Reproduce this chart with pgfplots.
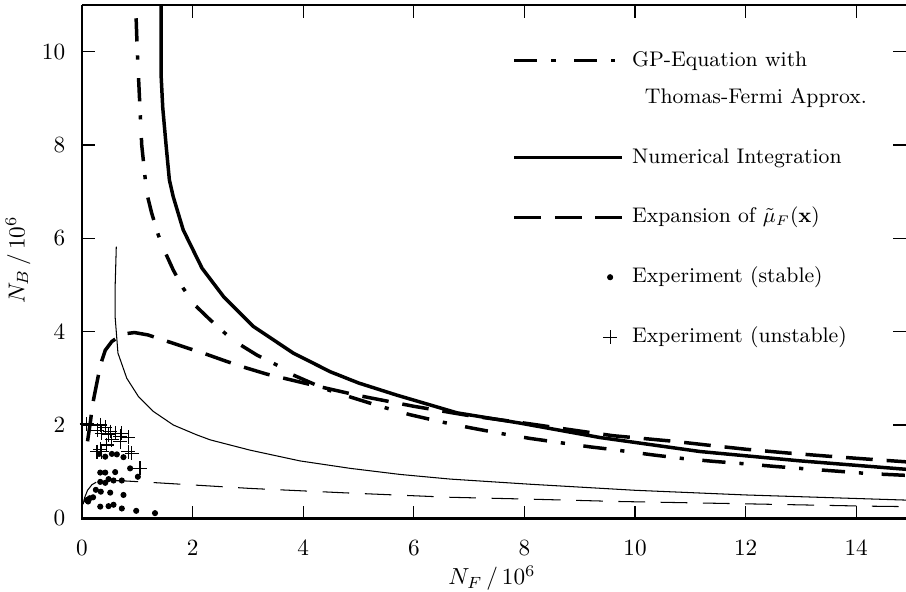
\documentclass[border=0pt]{standalone}
\usepackage{pgfplots}
\pgfplotsset{compat=1.18}
\pgfplotsset{
  markleg/.style={legend image code/.code={\path[draw=none,fill=none] (0pt,-5pt) rectangle (46.5pt,5pt);\draw[##1] plot coordinates {(41.3pt,0pt)};}},
  gpleg/.style={legend image code/.code={\path[draw=none,fill=none] (0pt,-5pt) rectangle (46.5pt,5pt);\draw[##1] (0pt,15.9pt) -- (46.5pt,15.9pt);}},
}
\newcommand{\leg}[1]{\raisebox{-3.2pt}[0pt][0pt]{#1}}
\begin{document}
\begin{tikzpicture}
\begin{axis}[
  name=ax,
  scale only axis,
  width=354.7pt, height=220.95pt,
  xmin=0, xmax=14.9, ymin=0, ymax=11,
  xtick={0,2,...,14}, ytick={0,2,...,10},
  tick align=inside,
  major tick length=5.4pt,
  every tick/.style={black, line width=0.5pt},
  axis line style={draw=none},
  xticklabel style={yshift=-6pt},
  yticklabel style={xshift=-3.7pt},
  xlabel={$N_F\,/\,10^6$},
  ylabel={$N_B\,/\,10^6$},
  xlabel style={at={(axis description cs:0.4976,-0.1168)}, anchor=center},
  ylabel style={at={(axis description cs:-0.0776,0.503)}, anchor=center},
  legend cell align=left,
  legend style={draw=none, fill=none, at={(0.5218,0.8962)}, anchor=north west,
    inner sep=0pt, row sep=15.8pt, column sep=3.5pt,
    nodes={inner sep=0pt, font=\fontsize{9.1}{11}\selectfont}},
  legend image code/.code={\path[draw=none,fill=none] (0pt,-5pt) rectangle (46.5pt,5pt);\draw[#1] (0pt,0pt) -- (46.5pt,0pt);},
]
% GP-Equation with Thomas-Fermi (thick dash-dot)
\addplot[black, line width=1.5pt, dash pattern=on 10pt off 6pt on 1.8pt off 8pt, gpleg] coordinates {
(0.96,12) (0.97,11) (1.0,10) (1.04,9) (1.08,8) (1.17,6.97) (1.26,6.54) (1.38,6.07)
(1.50,5.71) (1.65,5.32) (1.83,4.93) (2.04,4.57) (2.32,4.25) (2.62,3.93) (2.86,3.72)
(3.16,3.50) (3.58,3.25) (3.82,3.07) (4.40,2.77) (4.85,2.60) (5.39,2.40) (5.93,2.22)
(6.48,2.07) (7.02,1.94) (7.56,1.82) (8.11,1.71) (8.65,1.62) (9.19,1.53) (9.55,1.48)
(10.31,1.36) (10.87,1.28) (11.42,1.22) (11.96,1.17) (12.54,1.11) (13.08,1.06)
(13.65,1.01) (14.2,0.96) (14.9,0.92)};
\addlegendentry{\rlap{\raisebox{12.7pt}[0pt][0pt]{GP-Equation with}}\leg{\hspace{5.5pt}Thomas-Fermi Approx.}}
% Numerical integration (thick solid)
\addplot[black, line width=1.5pt] coordinates {
(1.43,12) (1.43,9.5) (1.46,8.8) (1.52,8.0) (1.58,7.25) (1.65,6.89) (1.83,6.18)
(2.17,5.36) (2.56,4.75) (3.10,4.11) (3.82,3.54) (4.49,3.14) (5.0,2.90) (5.69,2.64)
(6.78,2.26) (7.92,2.04) (9.37,1.73) (11.18,1.43) (12.99,1.23) (14.9,1.05)};
\addlegendentry{\leg{Numerical Integration}}
% Expansion (thick dashed)
\addplot[black, line width=1.5pt, dash pattern=on 11.5pt off 6pt] coordinates {
(0.1,1.65) (0.15,2.05) (0.19,2.43) (0.28,2.97) (0.34,3.31) (0.42,3.6) (0.54,3.79)
(0.74,3.95) (0.95,3.98) (1.19,3.93) (1.47,3.82) (1.93,3.64) (2.19,3.54) (2.62,3.36)
(2.92,3.24) (3.34,3.09) (4.15,2.86) (5,2.63) (6,2.4) (7,2.2) (8,2.04) (9,1.87)
(9.6,1.77) (10.7,1.65) (11.3,1.57) (12,1.48) (12.75,1.40) (13.5,1.33) (14.3,1.26)
(14.9,1.21)};
\addlegendentry{\leg{Expansion of $\tilde{\mu}_F(\mathbf{x})$}}
% Experiment stable
\addplot[black, only marks, mark=*, mark size=1.1pt, markleg] coordinates {
(0.31,1.38) (0.42,1.32) (0.54,1.38) (0.63,1.37) (0.75,1.31) (0.87,1.07)
(0.33,0.98) (0.42,0.98) (0.60,0.99) (0.33,0.78) (0.42,0.76) (0.48,0.84)
(0.57,0.81) (0.72,0.81) (1.01,0.89) (0.25,0.61) (0.34,0.57) (0.51,0.55)
(0.75,0.50) (0.085,0.39) (0.14,0.43) (0.2,0.45) (0.11,0.36) (0.33,0.25)
(0.48,0.26) (0.57,0.29) (0.72,0.21) (0.98,0.16) (1.32,0.11)};
\addlegendentry{\leg{Experiment (stable)}}
% Experiment unstable
\addplot[black, only marks, mark=+, mark size=3pt, line width=0.5pt, markleg] coordinates {
(0.085,2.02) (0.33,2.0) (0.28,1.89) (0.42,1.95) (0.51,1.86) (0.60,1.82) (0.36,1.82)
(0.48,1.79) (0.69,1.76) (0.72,1.82) (0.84,1.74) (0.54,1.68) (0.69,1.64) (0.45,1.57)
(0.33,1.48) (0.27,1.43) (0.36,1.43) (0.84,1.43) (0.90,1.39) (1.05,1.07)};
\addlegendentry{\leg{Experiment (unstable)}}
% thin numerical integration
\addplot[black, line width=0.45pt, forget plot] coordinates {
(0.62,5.82) (0.60,5.0) (0.60,4.3) (0.65,3.54) (0.81,3.0) (1.02,2.61) (1.29,2.29)
(1.65,2.0) (2.07,1.79) (2.32,1.68) (3.04,1.46) (3.94,1.23) (4.85,1.07) (5.75,0.94)
(6.66,0.84) (8.1,0.73) (10,0.6) (12,0.5) (14.9,0.39)};
% thin expansion
\addplot[black, line width=0.45pt, dash pattern=on 11.5pt off 6.7pt, forget plot] coordinates {
(0.02,0.3) (0.05,0.45) (0.1,0.6) (0.18,0.72) (0.28,0.79) (0.5,0.81) (0.78,0.8)
(1.23,0.77) (1.65,0.74) (3.04,0.64) (4.85,0.54) (6.66,0.45) (8.1,0.41) (9.7,0.36)
(12,0.31) (14.2,0.26) (14.9,0.25)};
\end{axis}
\draw[line width=1.1pt] (ax.north west) -- (ax.south west) -- (ax.south east);
\draw[line width=0.8pt] (ax.north west) -- (ax.north east);
\pgfresetboundingbox
\useasboundingbox (-35.3pt,-31.7pt) rectangle (354.7pt,223.1pt);
\end{tikzpicture}
\end{document}
